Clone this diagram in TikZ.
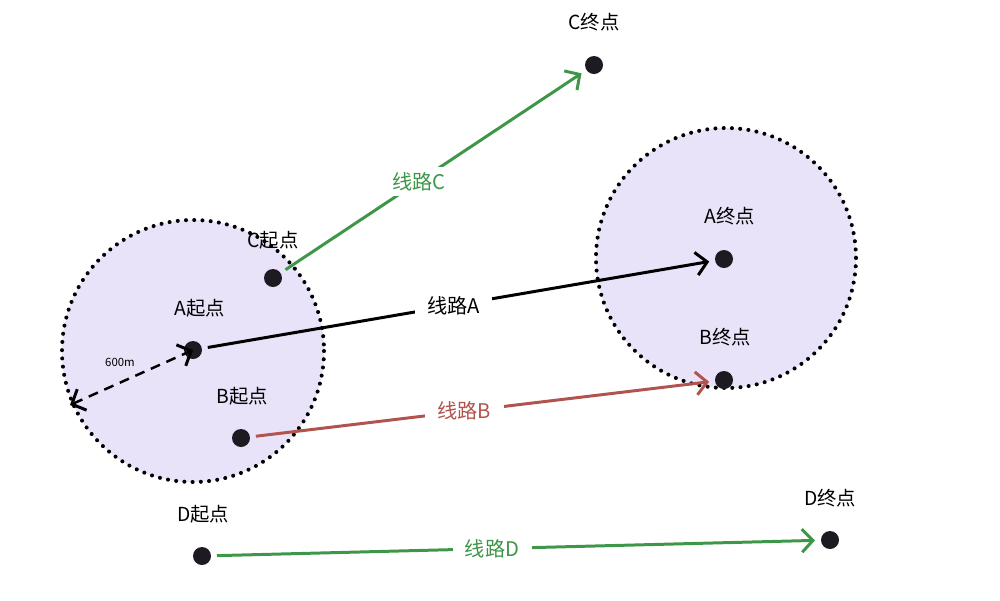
\documentclass[tikz,border=0pt]{standalone}
\usepackage{fontspec}
\setmainfont{Noto Sans CJK SC}
\usepackage{xcolor}
\usetikzlibrary{arrows.meta}
\definecolor{routeG}{RGB}{62,150,72}
\definecolor{routeR}{RGB}{178,84,78}
\definecolor{zoneF}{RGB}{233,227,249}
\definecolor{dotC}{RGB}{30,26,34}
\begin{document}
\begin{tikzpicture}[x=0.02cm,y=-0.02cm,
  >={Straight Barb[length=2.2mm,width=4.6mm,line width=1.7pt]},
  pt/.style={circle,fill=dotC,minimum size=3.6mm,inner sep=0pt,outer sep=1.2mm},
  lab/.style={font=\fontsize{11}{13}\selectfont,inner sep=1pt},
  zone/.style={fill=zoneF,draw=black,line width=2.3pt,line cap=round,dash pattern=on 0pt off 1.65mm},
  route/.style={->,line width=1.7pt},
  rlab/.style={font=\fontsize{11.5}{13}\selectfont,fill=white,inner xsep=7pt,inner ysep=3pt}]
  \useasboundingbox (0,0) rectangle (1000,600);
  % 600m zones round start and end
  \draw[zone] (193,351) circle[radius=131];
  \draw[zone] (726,258) circle[radius=130];
  % radius marker
  \coordinate (rim) at (70,405);
  \node[pt] (As) at (193,350) {};
  \draw[<->,line width=1.4pt,dash pattern=on 2mm off 1.4mm] (rim) -- (As.center);
  \node[font=\fontsize{6.5}{8}\selectfont] (r600) at (120,362) {600m};
  % start and end points
  \node[pt] (Cs) at (273,278) {};
  \node[pt] (Bs) at (241,438) {};
  \node[pt] (Ds) at (202,556) {};
  \node[pt] (Ce) at (594,65) {};
  \node[pt] (Ae) at (724,259) {};
  \node[pt] (Be) at (724,380) {};
  \node[pt] (De) at (830,540) {};
  \node[lab] (CsL) at (273,240) {C起点};
  \node[lab] (AsL) at (200,308) {A起点};
  \node[lab] (BsL) at (242,396) {B起点};
  \node[lab] (DsL) at (203,514) {D起点};
  \node[lab] (CeL) at (594,22) {C终点};
  \node[lab] (AeL) at (730,216) {A终点};
  \node[lab] (BeL) at (725,337) {B终点};
  \node[lab] (DeL) at (830,498) {D终点};
  % routes
  \draw[route,routeG] (Cs) -- node[rlab,pos=0.45] {线路C} (Ce);
  \draw[route,black] (As) -- node[rlab,pos=0.49] {线路A} (Ae);
  \draw[route,routeR] (Bs) -- node[rlab,pos=0.46] {线路B} (Be);
  \draw[route,routeG] (Ds) -- node[rlab,pos=0.46] {线路D} (De);
\end{tikzpicture}
\end{document}
